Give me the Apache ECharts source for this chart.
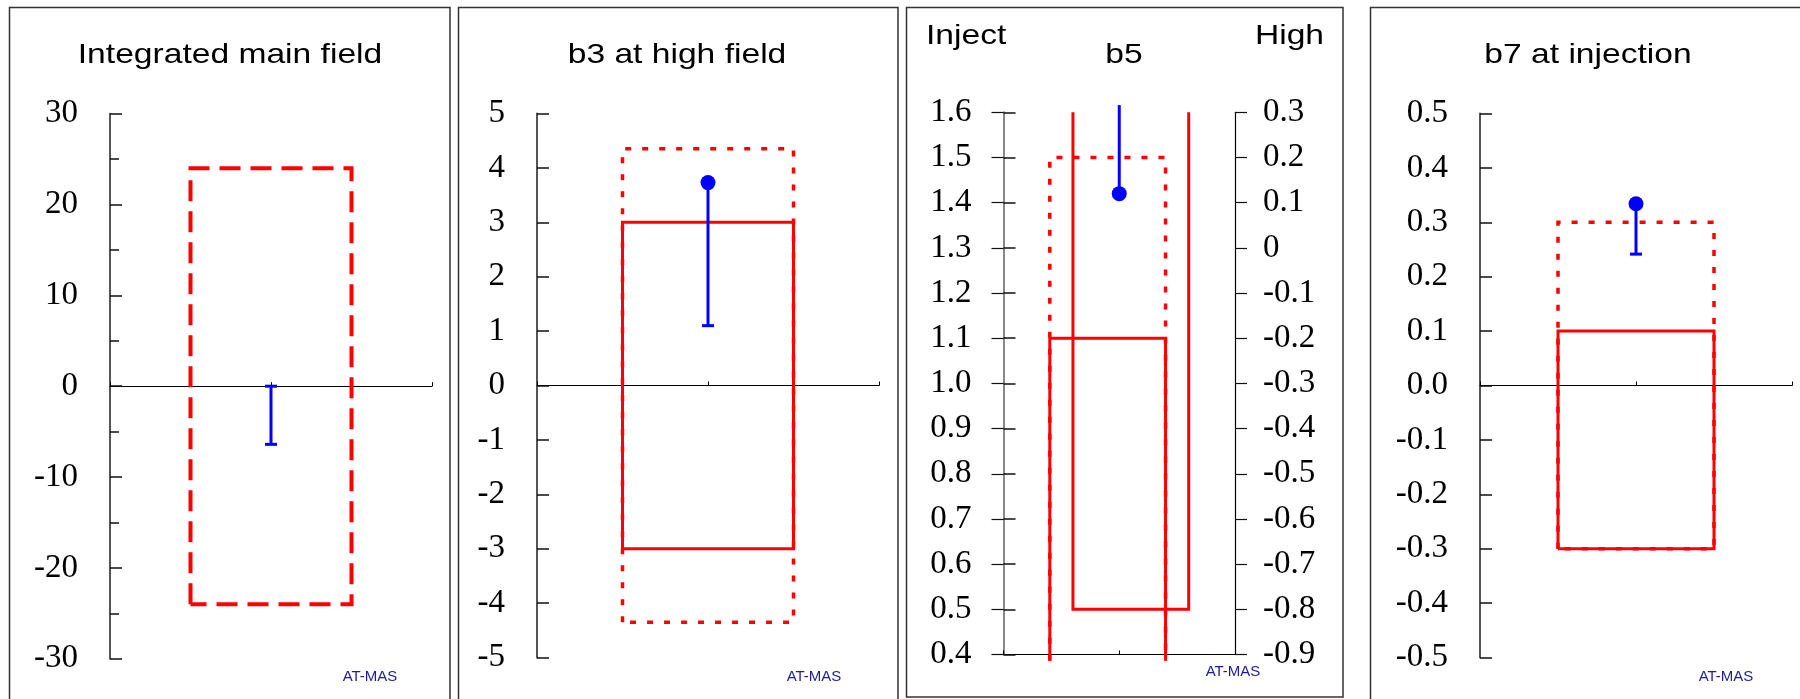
<!DOCTYPE html>
<html>
<head>
<meta charset="utf-8">
<script src="https://cdn.jsdelivr.net/npm/echarts@6/dist/echarts.min.js"></script>
<style>
  html, body { margin: 0; padding: 0; background: #fff; }
  #chart { width: 1800px; height: 699px; }
</style>
</head>
<body>
<div id="chart"></div>
<script>
// ---------------- DATA ----------------
const panelTitles = ['Integrated main field', 'b3 at high field', 'b5', 'b7 at injection'];
const b5ScaleTitles = ['Inject', 'High'];
const sourceTag = 'AT-MAS';

// one measurement slot centred at 1 on a 0..2 horizontal scale
const slotCentre = 1;
const boxSpan = [0.5, 1.5];
const b5InjectSpan = [0.4, 1.4];
const b5HighSpan = [0.6, 1.6];

// Panel 1: integrated main field
const mainFieldAxis = [-30, 30, 10];
const mainFieldTolerance = [-24, 24];
const mainFieldError = [-6.4, 0];

// Panel 2: b3 at high field
const b3Axis = [-5, 5, 1];
const b3Outer = [-4.35, 4.35];
const b3Inner = [-3, 3];
const b3Measured = [3.73];
const b3Error = [1.1, 3.73];

// Panel 3: b5 (left scale: injection, right scale: high field)
const b5InjectAxis = [0.4, 1.6, 0.1];
const b5HighAxis = [-0.9, 0.3, 0.1];
const b5InjectOuterTop = 1.5;
const b5InjectInnerTop = 1.1;
const b5InjectFloor = 0.386;
const b5HighBottom = -0.8;
const b5HighCeil = 0.3;
const b5Measured = [0.12];
const b5Error = [0.12, 0.316];

// Panel 4: b7 at injection
const b7Axis = [-0.5, 0.5, 0.1];
const b7Outer = [-0.3, 0.3];
const b7Inner = [-0.3, 0.1];
const b7Measured = [0.334];
const b7Error = [0.2415, 0.334];

// ---------------- LAYOUT / STYLE ----------------
const SERIF = '"Liberation Serif", "Times New Roman", serif';
const SANS = '"Liberation Sans", Arial, sans-serif';
const RED = '#ff0000';
const BLUE = '#0000ff';
const LABEL_SIZE = 33;
const grids = [
  { left: 110, top: 113.7, width: 322, height: 545 },
  { left: 537, top: 113.5, width: 342, height: 544 },
  { left: 1003.5, top: 112.3, width: 231.5, height: 542.2 },
  { left: 1480, top: 113.5, width: 312, height: 544 }
];
const panelFrames = [
  { x: 9.5, y: 7.5, w: 440.5, h: 720 },
  { x: 458.5, y: 7.5, w: 439.5, h: 720 },
  { x: 906.5, y: 7.5, w: 436.5, h: 689.5 },
  { x: 1370.5, y: 7.5, w: 450, h: 720 }
];
const titleCentres = [230, 677, 1124, 1588];
const tagCentres = [[370, 677], [814, 677], [1233, 672], [1726, 677]];

const DASHED = [21, 10];
const DOTTED = [6, 11];

// ---------------- HELPERS ----------------
function closedBox(span, lim) {
  return [[span[0], lim[0]], [span[0], lim[1]], [span[1], lim[1]], [span[1], lim[0]], [span[0], lim[0]]];
}
function openBox(span, from, to) {
  return [[span[0], from], [span[0], to], [span[1], to], [span[1], from]];
}
function boxSeries(gi, yi, data, type, width) {
  return {
    type: 'line', xAxisIndex: gi, yAxisIndex: yi, data: data,
    symbol: 'none', showSymbol: false, clip: false, silent: true,
    animation: false, z: 3,
    lineStyle: { color: RED, width: width, type: type, join: 'miter', cap: 'butt', opacity: 1 }
  };
}
function errSeries(gi, yi, lo, hi, capLo, capHi) {
  return {
    type: 'custom', xAxisIndex: gi, yAxisIndex: yi, clip: false, silent: true,
    animation: false, z: 5,
    data: [[slotCentre, lo, hi, capLo ? 1 : 0, capHi ? 1 : 0]],
    encode: { x: 0, y: [1, 2] },
    renderItem: function (params, api) {
      const x = api.value(0);
      const p0 = api.coord([x, api.value(1)]);
      const p1 = api.coord([x, api.value(2)]);
      const st = { stroke: BLUE, lineWidth: 3 };
      const ch = [{ type: 'line', shape: { x1: p0[0], y1: p0[1], x2: p1[0], y2: p1[1] }, style: st }];
      const hw = 6;
      if (api.value(3)) ch.push({ type: 'line', shape: { x1: p0[0] - hw, y1: p0[1], x2: p0[0] + hw, y2: p0[1] }, style: st });
      if (api.value(4)) ch.push({ type: 'line', shape: { x1: p1[0] - hw, y1: p1[1], x2: p1[0] + hw, y2: p1[1] }, style: st });
      return { type: 'group', children: ch };
    }
  };
}
function dotSeries(gi, yi, vals) {
  return {
    type: 'scatter', xAxisIndex: gi, yAxisIndex: yi, clip: false, silent: true,
    animation: false, z: 6, symbol: 'circle', symbolSize: 15,
    itemStyle: { color: BLUE, opacity: 1 },
    data: vals.map(v => [slotCentre, v])
  };
}
function fmt1(v) { return (Math.round(v * 10) / 10).toFixed(1); }
function fmtHigh(v) { const r = Math.round(v * 10) / 10; return Math.abs(r) < 1e-9 ? '0' : r.toFixed(1); }

function yAxis(gi, range, opts) {
  const o = Object.assign({
    gridIndex: gi, type: 'value', min: range[0], max: range[1], interval: range[2],
    position: 'left',
    splitLine: { show: false },
    axisLine: { show: true, onZero: false, lineStyle: { color: '#555', width: 2 } },
    axisTick: { show: true, inside: true, length: 12, lineStyle: { color: '#111', width: 1.5 } },
    axisLabel: { show: true, margin: 32, color: '#000', fontFamily: SERIF, fontSize: LABEL_SIZE }
  }, opts || {});
  return o;
}

// ---------------- OPTION ----------------
const xAxes = grids.map((g, i) => ({
  gridIndex: i, type: 'value', min: 0, max: 2, interval: 1,
  splitLine: { show: false },
  axisLabel: { show: false },
  axisLine: { show: true, onZero: i !== 2, lineStyle: { color: '#000', width: 1 } },
  axisTick: { show: true, inside: true, length: 4, lineStyle: { color: '#000', width: 1 } }
}));

const yAxes = [
  yAxis(0, mainFieldAxis, {
    minorTick: { show: true, splitNumber: 2, length: 9, lineStyle: { color: '#111', width: 1.5 } }
  }),
  yAxis(1, b3Axis),
  yAxis(2, b5InjectAxis, {
    axisLine: { show: true, onZero: false, lineStyle: { color: '#888', width: 2 } },
    axisLabel: { show: true, margin: 32, color: '#000', fontFamily: SERIF, fontSize: LABEL_SIZE, formatter: fmt1 }
  }),
  yAxis(2, b5HighAxis, {
    position: 'right',
    axisLine: { show: true, onZero: false, lineStyle: { color: '#000', width: 1.2 } },
    axisTick: { show: true, inside: false, length: 12, lineStyle: { color: '#111', width: 1.2 } },
    axisLabel: { show: true, margin: 28, color: '#000', fontFamily: SERIF, fontSize: LABEL_SIZE, formatter: fmtHigh }
  }),
  yAxis(2, b5HighAxis, {
    position: 'right',
    axisLine: { show: false },
    axisTick: { show: true, inside: true, length: 12, lineStyle: { color: '#111', width: 1.2 } },
    axisLabel: { show: false }
  }),
  yAxis(3, b7Axis, {
    axisLabel: { show: true, margin: 32, color: '#000', fontFamily: SERIF, fontSize: LABEL_SIZE, formatter: fmt1 }
  })
];

const series = [
  // Panel 1
  boxSeries(0, 0, closedBox(boxSpan, mainFieldTolerance), DASHED, 4),
  errSeries(0, 0, mainFieldError[0], mainFieldError[1], true, true),
  // Panel 2
  boxSeries(1, 1, closedBox(boxSpan, b3Outer), DOTTED, 3.5),
  boxSeries(1, 1, closedBox(boxSpan, b3Inner), 'solid', 3),
  errSeries(1, 1, b3Error[0], b3Error[1], true, false),
  dotSeries(1, 1, b3Measured),
  // Panel 3
  boxSeries(2, 2, openBox(b5InjectSpan, b5InjectFloor, b5InjectOuterTop), DOTTED, 3.5),
  boxSeries(2, 2, openBox(b5InjectSpan, b5InjectFloor, b5InjectInnerTop), 'solid', 3),
  boxSeries(2, 3, openBox(b5HighSpan, b5HighCeil, b5HighBottom), 'solid', 3),
  errSeries(2, 3, b5Error[0], b5Error[1], false, false),
  dotSeries(2, 3, b5Measured),
  // Panel 4
  boxSeries(3, 5, closedBox(boxSpan, b7Outer), DOTTED, 3.5),
  boxSeries(3, 5, closedBox(boxSpan, b7Inner), 'solid', 3),
  errSeries(3, 5, b7Error[0], b7Error[1], true, false),
  dotSeries(3, 5, b7Measured)
];

const graphics = [];
panelFrames.forEach(f => {
  graphics.push({
    type: 'rect', silent: true, z: 0,
    shape: { x: f.x, y: f.y, width: f.w, height: f.h },
    style: { fill: 'none', stroke: '#333', lineWidth: 1.5 }
  });
});
function textEl(str, x, y, size, align, color, sx) {
  return {
    type: 'text', silent: true, z: 10, x: x, y: y, scaleX: sx, scaleY: 1,
    style: {
      text: str, fill: color, font: size + 'px ' + SANS,
      fontSize: size, fontFamily: SANS,
      align: align, verticalAlign: 'middle',
      textAlign: align, textVerticalAlign: 'middle'
    }
  };
}
panelTitles.forEach((t, i) => graphics.push(textEl(t, titleCentres[i], 55, 28, 'center', '#000', 1.2)));
graphics.push(textEl(b5ScaleTitles[0], 926, 36, 28, 'left', '#000', 1.2));
graphics.push(textEl(b5ScaleTitles[1], 1324, 36, 28, 'right', '#000', 1.2));
tagCentres.forEach(c => graphics.push(textEl(sourceTag, c[0], c[1], 15, 'center', '#1c1c9c', 1)));

const option = {
  animation: false,
  backgroundColor: '#fff',
  grid: grids.map(g => Object.assign({ containLabel: false, outerBoundsMode: 'none' }, g)),
  xAxis: xAxes,
  yAxis: yAxes,
  series: series,
  graphic: { elements: graphics }
};

const chart = echarts.init(document.getElementById('chart'), null, { renderer: 'canvas' });
chart.setOption(option);
</script>
</body>
</html>
